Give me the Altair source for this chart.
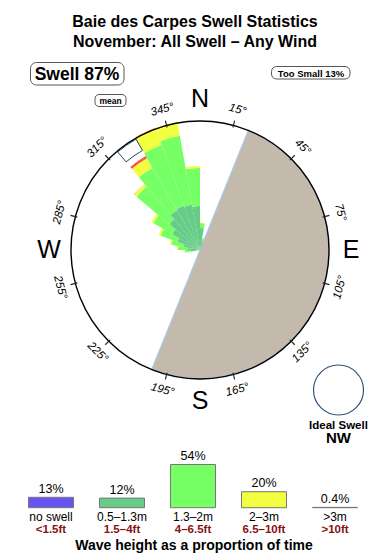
import altair as alt
import pandas as pd

# ---------------- data ----------------
TITLE1 = "Baie des Carpes Swell Statistics"
TITLE2 = "November: All Swell – Any Wind"
SWELL_TXT = "Swell 87%"
SMALL_TXT = "Too Small 13%"

# swell-rose bins (start bearing, degrees) and stacked heights per wave class
DIRS = [260, 270, 280, 290, 300, 310, 320, 330, 340, 350, 0, 10]
H_05_13 = [0.9, 1.2, 1.7, 2.4, 3.2, 4.0, 4.6, 4.7, 4.6, 4.4, 2.2, 1.0]
H_13_2 = [0.6, 1.0, 1.2, 1.8, 2.2, 4.3, 4.9, 6.5, 7.0, 3.8, 0.5, 0.2]
H_2_3 = [0.05, 0.1, 0.15, 0.2, 0.25, 0.3, 1.1, 1.75, 1.4, 0.2, 0.05, 0.0]
H_3P = [0.0, 0.0, 0.0, 0.0, 0.0, 0.03, 0.25, 0.05, 0.0, 0.0, 0.0, 0.0]
BIN_WIDTH = 10

LAND = [22, 202]          # bearings bounding the land half-disc
MEAN_DIR = [320, 330]     # mean-direction marker
TICK_ANGLES = [15, 45, 75, 105, 135, 165, 195, 225, 255, 285, 315, 345]
COMPASS = ["N", "E", "S", "W"]
COMPASS_ANGLES = [0, 90, 180, 270]

LEG_CATS = ["no swell", "0.5–1.3m", "1.3–2m", "2–3m", ">3m"]
LEG_FT = ["<1.5ft", "1.5–4ft", "4–6.5ft", "6.5–10ft", ">10ft"]
LEG_PCT = [13, 12, 54, 20, 0.4]
LEG_LABELS = ["13%", "12%", "54%", "20%", "0.4%"]
COLORS = ["#6655EE", "#66CC88", "#77FF66", "#F2FF40", "#FF5544"]

# ---------------- frames ----------------
rows = []
for i, d in enumerate(DIRS):
    cum = 0.0
    for cat, arr in zip(LEG_CATS[1:], [H_05_13, H_13_2, H_2_3, H_3P]):
        v = arr[i]
        if v > 0:
            rows.append({"a0": d, "a1": d + BIN_WIDTH, "r0": cum, "r1": cum + v, "cat": cat})
        cum += v
rose_df = pd.DataFrame(rows)

land_df = pd.DataFrame({"a0": [LAND[0]], "a1": [LAND[1]]})
mean_df = pd.DataFrame({"a0": [MEAN_DIR[0]], "a1": [MEAN_DIR[1]]})
tick_df = pd.DataFrame({"a0": [a - 0.25 for a in TICK_ANGLES], "a1": [a + 0.25 for a in TICK_ANGLES]})
deg_df = pd.DataFrame({
    "a": TICK_ANGLES,
    "label": [f"{a}°" for a in TICK_ANGLES],
    "rot": [a if (a < 90 or a > 270) else (a + 180) % 360 for a in TICK_ANGLES],
})
comp_df = pd.DataFrame({"a": COMPASS_ANGLES, "label": COMPASS})
leg_df = pd.DataFrame({"cat": LEG_CATS, "pct": LEG_PCT, "plabel": LEG_LABELS, "ft": LEG_FT})
one = pd.DataFrame({"k": [0]})

# ---------------- scales ----------------
TAU = 6.283185307179586
CX, CY, R = 200, 250, 129
FONT = "Liberation Sans"
theta_scale = alt.Scale(domain=[0, 360], range=[0, TAU])
radius_scale = alt.Scale(type="linear", domain=[0, 12.9], range=[0, 129])
color_scale = alt.Scale(domain=LEG_CATS, range=COLORS)
x_scale = alt.Scale(domain=LEG_CATS, range=[15.5, 370.5], paddingInner=0.366, paddingOuter=0.183)
y_scale = alt.Scale(domain=[0, 100], range=[507.7, 427.7])

cx = alt.value(CX)
cy = alt.value(CY)


def th(f):
    return alt.Theta(f"{f}:Q", scale=theta_scale, stack=False)


land = alt.Chart(land_df).mark_arc(fill="#C4B9AD", stroke="#A9CBEA", strokeWidth=1.2).encode(
    x=cx, y=cy, theta=th("a0"), theta2=alt.Theta2("a1:Q"), radius=alt.value(R))

rose = alt.Chart(rose_df).mark_arc().encode(
    x=cx, y=cy, theta=th("a0"), theta2=alt.Theta2("a1:Q"),
    radius=alt.Radius("r1:Q", scale=radius_scale), radius2=alt.Radius2("r0:Q"),
    color=alt.Color("cat:N", scale=color_scale, legend=None))

circle = alt.Chart(one).mark_arc(fillOpacity=0, stroke="black", strokeWidth=1.4).encode(
    x=cx, y=cy, theta=alt.value(0), theta2=alt.value(TAU), radius=alt.value(R))

ticks = alt.Chart(tick_df).mark_arc(fill="#222222").encode(
    x=cx, y=cy, theta=th("a0"), theta2=alt.Theta2("a1:Q"),
    radius=alt.value(134), radius2=alt.value(127))

mean_mark = alt.Chart(mean_df).mark_arc(fillOpacity=0, stroke="#224466", strokeWidth=1).encode(
    x=cx, y=cy, theta=th("a0"), theta2=alt.Theta2("a1:Q"),
    radius=alt.value(128), radius2=alt.value(115))

deg = alt.Chart(deg_df).mark_text(font=FONT, fontSize=11.5, fontStyle="italic",
                                  align="center", baseline="middle").encode(
    x=cx, y=cy, theta=th("a"), radius=alt.value(145), text="label:N",
    angle=alt.Angle("rot:Q", scale=None))

comp = alt.Chart(comp_df).mark_text(font=FONT, fontSize=25, align="center", baseline="middle").encode(
    x=cx, y=cy, theta=th("a"), radius=alt.value(151), text="label:N")


def txt(s, x, y, size, weight="normal", color="black", align="center"):
    d = pd.DataFrame({"t": [s]})
    return alt.Chart(d).mark_text(font=FONT, fontSize=size, fontWeight=weight, color=color,
                                  align=align, baseline="alphabetic").encode(
        x=alt.value(x), y=alt.value(y), text="t:N")


def box(x1, x2, y1, y2, rad):
    return alt.Chart(one).mark_rect(fill="white", stroke="#555555", strokeWidth=1,
                                    cornerRadius=rad).encode(
        x=alt.value(x1), x2=alt.value(x2), y=alt.value(y1), y2=alt.value(y2))


titles = [
    txt(TITLE1, 195, 26.5, 16, "bold"),
    txt(TITLE2, 195, 47, 16, "bold"),
    box(30.5, 124, 62.5, 85, 6),
    txt(SWELL_TXT, 77, 80, 17.5, "bold"),
    box(271.5, 350, 66.5, 79, 5),
    txt(SMALL_TXT, 311, 76.5, 9.5, "bold"),
    box(95, 126, 94.5, 106.5, 4),
    txt("mean", 110.5, 103.5, 8.5, "bold"),
]

ideal = alt.Chart(one).mark_arc(fillOpacity=0, stroke="#335577", strokeWidth=1.2).encode(
    x=alt.value(338.5), y=alt.value(390), theta=alt.value(0), theta2=alt.value(TAU),
    radius=alt.value(25))
ideal_txt = [txt("Ideal Swell", 338.5, 428.5, 11.5, "bold"), txt("NW", 338.5, 443, 15, "bold")]

xenc = alt.X("cat:N", scale=x_scale, axis=None)
bars = alt.Chart(leg_df).mark_bar(stroke="#777777", strokeWidth=1).encode(
    x=xenc, y=alt.Y("pct:Q", scale=y_scale, axis=None),
    color=alt.Color("cat:N", scale=color_scale, legend=None))
bar_pct = alt.Chart(leg_df).mark_text(font=FONT, fontSize=12.5, baseline="alphabetic", dy=-4.5).encode(
    x=xenc, y=alt.Y("pct:Q", scale=y_scale, axis=None), text="plabel:N")
bar_cat = alt.Chart(leg_df).mark_text(font=FONT, fontSize=12, baseline="alphabetic").encode(
    x=xenc, y=alt.value(521), text="cat:N")
bar_ft = alt.Chart(leg_df).mark_text(font=FONT, fontSize=11.5, fontWeight="bold", color="#881111",
                                     baseline="alphabetic").encode(
    x=xenc, y=alt.value(532.5), text="ft:N")
foot = txt("Wave height as a proportion of time", 194, 550, 14, "bold")

chart = alt.layer(
    land, rose, circle, ticks, mean_mark, deg, comp,
    *titles, ideal, *ideal_txt,
    bars, bar_pct, bar_cat, bar_ft, foot,
).properties(
    width=390, height=560, autosize=alt.AutoSizeParams(type="none"), padding=0,
    background="white",
).configure_view(strokeWidth=0)

chart.save("out.html", embed_options={"renderer": "svg", "actions": False})
